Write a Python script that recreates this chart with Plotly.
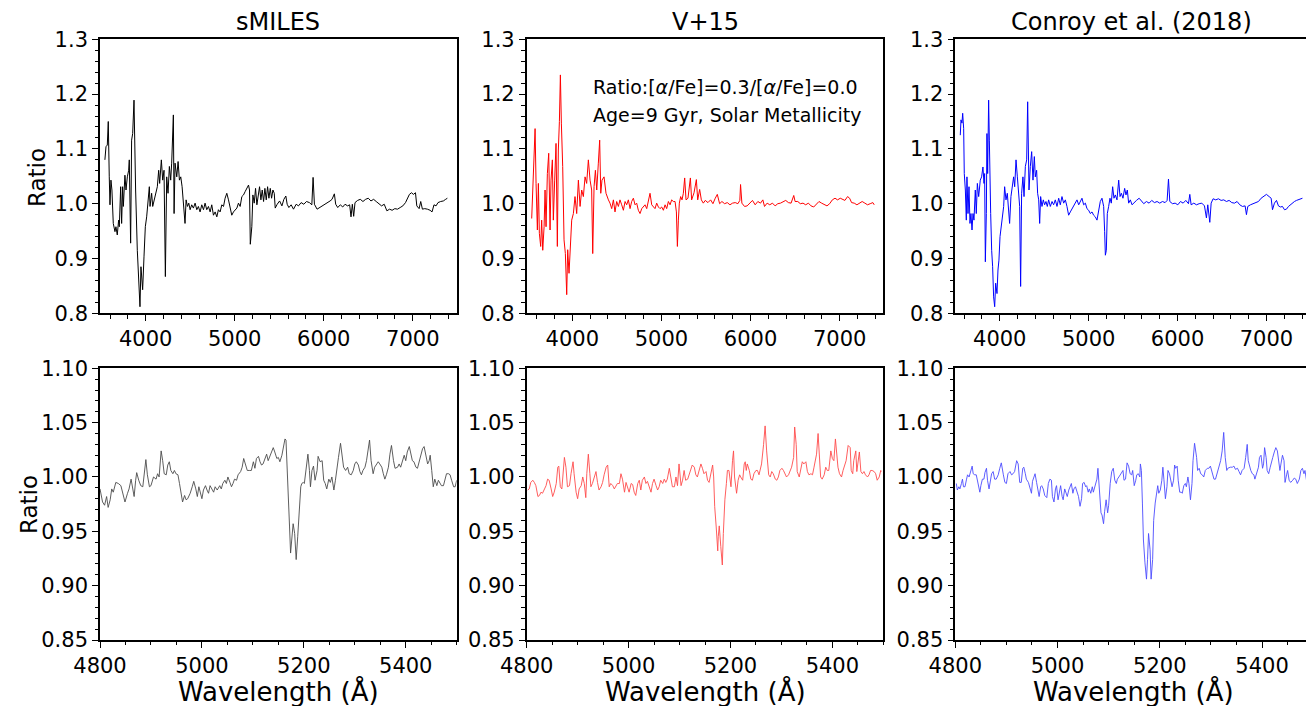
import plotly.graph_objects as go

# ---------------- full-range ratio spectra (top row) ----------------
smiles_wl = [3542, 3554, 3569, 3580, 3591, 3599, 3610, 3621, 3636, 3655, 3666, 3681, 3696, 3704,
             3719, 3730, 3741, 3749, 3767, 3779, 3794, 3809, 3816, 3831, 3842, 3854, 3869, 3876,
             3887, 3906, 3917, 3936, 3947, 3966, 3981, 3996, 4011, 4022, 4041, 4049, 4067, 4079,
             4094, 4116, 4131, 4146, 4157, 4176, 4191, 4206, 4221, 4236, 4251, 4266, 4281, 4292,
             4311, 4319, 4330, 4349, 4364, 4379, 4394, 4409, 4424, 4442, 4454, 4469, 4484, 4499,
             4517, 4536, 4555, 4574, 4592, 4611, 4630, 4649, 4667, 4686, 4705, 4724, 4742, 4761,
             4780, 4799, 4817, 4836, 4855, 4874, 4892, 4911, 4930, 4949, 4967, 4986, 5005, 5024,
             5042, 5061, 5080, 5099, 5117, 5136, 5155, 5166, 5175, 5192, 5204, 5219, 5234, 5249,
             5264, 5279, 5294, 5309, 5324, 5339, 5354, 5369, 5384, 5399, 5414, 5429, 5444, 5455,
             5477, 5504, 5530, 5552, 5574, 5589, 5608, 5634, 5660, 5690, 5716, 5746, 5776, 5806,
             5839, 5866, 5880, 5895, 5925, 5955, 5989, 6015, 6045, 6071, 6093, 6119, 6134, 6157,
             6186, 6213, 6239, 6268, 6291, 6306, 6321, 6336, 6351, 6380, 6410, 6440, 6470, 6500,
             6530, 6560, 6589, 6619, 6649, 6679, 6709, 6739, 6768, 6798, 6828, 6858, 6888, 6918,
             6940, 6962, 6985, 7007, 7030, 7045, 7071, 7089, 7108, 7134, 7164, 7194, 7216, 7238,
             7261, 7283, 7313, 7343, 7369, 7388]
smiles_ratio = [1.080, 1.104, 1.107, 1.150, 1.049, 0.998, 1.043, 1.025, 0.964, 0.949, 0.958, 0.943, 0.970, 0.958,
                1.031, 0.964, 1.031, 0.995, 1.052, 1.025, 1.049, 1.061, 1.080, 0.928, 1.116, 1.128, 1.189, 1.104,
                1.025, 0.915, 0.867, 0.812, 0.885, 0.843, 0.903, 0.958, 0.976, 0.995, 1.031, 0.995, 1.019, 0.995,
                1.007, 1.025, 1.031, 1.061, 1.037, 1.080, 1.043, 1.061, 0.867, 1.049, 1.019, 1.068, 1.043, 1.074,
                1.162, 0.982, 1.074, 1.049, 1.077, 1.043, 1.049, 1.031, 0.995, 0.964, 1.007, 0.995, 1.001, 0.989,
                0.998, 0.992, 1.001, 0.989, 0.995, 0.985, 0.998, 0.989, 1.001, 0.989, 0.995, 0.985, 0.998, 0.979,
                0.985, 0.976, 0.989, 0.985, 0.998, 0.995, 1.010, 1.019, 1.007, 0.989, 0.979, 0.985, 0.989, 0.992,
                1.001, 0.995, 1.013, 1.016, 1.022, 1.028, 1.034, 1.025, 0.926, 0.958, 1.016, 1.001, 1.028, 0.998,
                1.016, 1.031, 1.007, 1.025, 1.004, 1.028, 1.007, 1.031, 1.010, 1.028, 1.010, 1.025, 1.019, 0.992,
                0.999, 1.005, 0.996, 1.008, 1.014, 0.999, 0.993, 0.998, 0.990, 0.999, 0.996, 1.002, 0.999, 1.004,
                1.002, 0.998, 1.048, 0.999, 0.990, 0.993, 0.996, 1.000, 1.002, 1.005, 1.008, 1.018, 0.999, 0.993,
                0.998, 0.994, 0.999, 0.996, 0.998, 0.976, 0.999, 0.977, 1.002, 1.006, 1.008, 1.004, 1.008, 1.010,
                1.005, 1.008, 1.004, 1.000, 0.996, 0.999, 0.987, 0.990, 0.988, 0.991, 0.990, 0.993, 0.996, 1.002,
                1.011, 1.017, 1.020, 1.017, 1.020, 0.996, 0.991, 1.004, 0.990, 0.991, 0.990, 0.988, 0.985, 0.998,
                0.996, 1.002, 1.004, 1.005, 1.008, 1.010]

v15_wl = [3544, 3563, 3582, 3593, 3608, 3619, 3630, 3645, 3656, 3668, 3683, 3694, 3705, 3720,
          3735, 3750, 3761, 3776, 3787, 3802, 3817, 3832, 3843, 3855, 3866, 3877, 3892, 3907,
          3922, 3937, 3948, 3963, 3978, 3993, 4012, 4030, 4049, 4068, 4087, 4105, 4124, 4143,
          4161, 4180, 4199, 4217, 4229, 4244, 4259, 4274, 4292, 4307, 4319, 4333, 4356, 4378,
          4405, 4423, 4442, 4461, 4479, 4498, 4517, 4535, 4554, 4573, 4592, 4610, 4629, 4648,
          4666, 4685, 4704, 4722, 4741, 4760, 4779, 4797, 4816, 4835, 4853, 4872, 4891, 4910,
          4928, 4947, 4966, 4984, 5003, 5022, 5041, 5059, 5078, 5097, 5115, 5134, 5153, 5168,
          5179, 5190, 5201, 5216, 5231, 5246, 5261, 5276, 5298, 5325, 5339, 5366, 5392, 5407,
          5429, 5448, 5470, 5492, 5522, 5552, 5578, 5604, 5627, 5653, 5679, 5709, 5739, 5769,
          5798, 5828, 5858, 5880, 5888, 5903, 5933, 5962, 5992, 6022, 6052, 6082, 6112, 6138,
          6157, 6186, 6216, 6246, 6276, 6306, 6336, 6365, 6395, 6425, 6455, 6485, 6500, 6530,
          6559, 6589, 6619, 6649, 6679, 6709, 6739, 6768, 6798, 6828, 6858, 6888, 6918, 6948,
          6977, 7007, 7037, 7059, 7089, 7112, 7134, 7164, 7194, 7224, 7253, 7283, 7313, 7343,
          7373, 7388]
v15_ratio = [0.973, 1.043, 1.137, 1.037, 0.952, 1.037, 0.946, 0.922, 0.970, 0.915, 0.958, 1.025, 0.958, 1.055,
             1.092, 0.952, 1.043, 1.080, 0.970, 1.043, 1.110, 0.922, 1.098, 1.150, 1.235, 1.147, 1.068, 0.934,
             0.909, 0.834, 0.916, 0.873, 0.934, 0.970, 0.982, 1.013, 0.982, 1.043, 0.995, 1.025, 1.013, 1.049,
             1.037, 1.080, 1.043, 1.025, 0.909, 1.031, 1.061, 1.025, 1.074, 1.116, 1.019, 1.043, 1.049, 1.019,
             1.007, 1.001, 0.991, 1.007, 0.985, 1.004, 0.995, 1.007, 0.998, 0.988, 1.004, 0.998, 1.007, 0.991,
             1.004, 1.010, 0.998, 1.001, 0.988, 0.982, 0.991, 0.994, 0.998, 0.991, 1.007, 1.019, 0.998, 0.994,
             0.991, 1.001, 0.994, 0.991, 0.994, 0.988, 0.998, 0.991, 1.004, 0.998, 1.007, 1.004, 1.004, 0.985,
             0.922, 0.970, 1.001, 1.013, 1.007, 1.019, 1.047, 1.007, 1.010, 1.047, 1.007, 1.020, 1.044, 1.007,
             1.026, 1.007, 1.001, 1.006, 1.002, 1.007, 1.000, 1.010, 1.017, 1.000, 1.004, 1.000, 1.002, 0.998,
             1.001, 1.002, 1.000, 1.006, 1.035, 1.001, 0.995, 0.996, 1.001, 1.006, 0.998, 1.004, 1.001, 1.007,
             0.995, 1.001, 0.998, 1.001, 0.996, 1.000, 1.001, 1.004, 1.006, 1.002, 1.001, 1.015, 1.004, 1.004,
             1.000, 1.001, 0.998, 1.001, 0.996, 0.994, 1.000, 1.004, 1.001, 0.998, 0.996, 1.000, 1.007, 1.010,
             1.007, 1.010, 1.007, 1.006, 1.013, 1.010, 1.002, 1.001, 0.998, 1.001, 1.004, 1.001, 0.998, 1.000,
             1.002, 0.998]

conroy_wl = [3556, 3564, 3575, 3583, 3594, 3601, 3613, 3624, 3631, 3643, 3654, 3665, 3676, 3688,
             3699, 3710, 3725, 3736, 3748, 3763, 3781, 3796, 3811, 3823, 3830, 3838, 3849, 3856,
             3864, 3875, 3883, 3890, 3898, 3909, 3920, 3931, 3943, 3954, 3969, 3980, 3991, 4003,
             4014, 4025, 4044, 4055, 4070, 4085, 4100, 4111, 4126, 4138, 4156, 4168, 4183, 4198,
             4213, 4224, 4235, 4246, 4261, 4273, 4288, 4303, 4314, 4321, 4329, 4344, 4359, 4374,
             4389, 4400, 4415, 4426, 4438, 4449, 4460, 4475, 4490, 4505, 4520, 4535, 4550, 4569,
             4588, 4606, 4625, 4644, 4663, 4681, 4700, 4719, 4738, 4756, 4775, 4794, 4813, 4831,
             4850, 4869, 4888, 4906, 4925, 4944, 4963, 4981, 5000, 5019, 5038, 5056, 5075, 5094,
             5113, 5131, 5150, 5169, 5180, 5188, 5199, 5210, 5225, 5240, 5255, 5270, 5285, 5300,
             5319, 5338, 5353, 5368, 5386, 5405, 5420, 5435, 5450, 5469, 5488, 5518, 5538, 5568,
             5594, 5620, 5650, 5680, 5710, 5740, 5770, 5800, 5830, 5860, 5883, 5898, 5913, 5943,
             5973, 6003, 6033, 6063, 6093, 6123, 6138, 6153, 6183, 6213, 6243, 6273, 6303, 6325,
             6340, 6363, 6378, 6400, 6430, 6460, 6490, 6520, 6550, 6580, 6610, 6640, 6670, 6700,
             6730, 6760, 6775, 6790, 6820, 6850, 6880, 6910, 6940, 6970, 7000, 7030, 7053, 7068,
             7090, 7113, 7135, 7158, 7180, 7203, 7225, 7248, 7270, 7293, 7315, 7338, 7360, 7383,
             7405]
conroy_ratio = [1.125, 1.153, 1.147, 1.165, 1.137, 1.055, 1.025, 0.970, 1.049, 0.982, 1.031, 0.964, 0.982, 0.952,
                0.982, 0.970, 1.025, 0.982, 1.037, 1.013, 1.043, 1.049, 1.067, 1.037, 1.055, 0.894, 0.982, 1.128,
                1.055, 1.189, 1.116, 1.031, 0.982, 0.915, 0.885, 0.830, 0.812, 0.855, 0.836, 0.879, 0.897, 0.940,
                0.958, 0.964, 0.995, 1.031, 1.007, 1.019, 0.982, 0.964, 1.013, 1.031, 1.049, 1.031, 1.080, 1.049,
                1.025, 0.995, 0.849, 1.019, 1.049, 1.013, 1.068, 1.080, 1.186, 1.104, 1.025, 1.068, 1.095, 1.043,
                1.086, 1.049, 1.061, 1.019, 1.007, 0.964, 1.013, 0.995, 1.007, 0.998, 1.004, 0.995, 1.007, 0.995,
                1.004, 0.998, 1.007, 0.995, 1.010, 0.998, 1.013, 1.001, 1.007, 0.995, 0.979, 0.985, 0.991, 0.998,
                1.001, 1.007, 0.998, 1.004, 1.010, 0.998, 1.001, 0.991, 0.988, 0.982, 0.985, 0.979, 0.976, 0.970,
                0.991, 1.004, 1.010, 0.995, 0.949, 0.906, 0.915, 0.982, 0.995, 1.010, 1.001, 1.031, 1.010, 1.016,
                1.007, 1.043, 1.013, 1.019, 1.010, 1.028, 1.016, 1.025, 1.001, 1.007, 0.998, 1.004, 1.006, 1.010,
                1.004, 1.000, 1.004, 1.001, 1.006, 1.002, 1.004, 1.001, 1.004, 1.002, 1.006, 1.045, 1.004, 1.000,
                1.001, 0.998, 1.004, 1.001, 1.006, 1.000, 1.017, 0.998, 1.001, 0.998, 1.000, 1.001, 0.996, 0.974,
                0.998, 0.966, 1.001, 1.009, 1.007, 1.009, 1.006, 1.007, 1.004, 1.006, 1.002, 1.001, 1.004, 0.998,
                0.995, 0.996, 0.980, 0.995, 0.998, 1.000, 1.001, 1.004, 1.010, 1.013, 1.017, 1.013, 1.010, 0.989,
                1.001, 1.006, 0.996, 0.994, 0.995, 0.989, 0.990, 0.995, 0.998, 1.002, 1.004, 1.006, 1.007, 1.009,
                1.010]

# ---------------- zoom on 4800-5500 A (bottom row) ----------------
smiles_zoom_wl = [4800, 4805, 4809, 4813, 4816, 4820, 4823, 4826, 4831, 4836, 4841, 4845, 4849, 4854,
                  4857, 4861, 4864, 4867, 4870, 4872, 4876, 4880, 4884, 4887, 4890, 4893, 4897, 4900,
                  4905, 4910, 4913, 4916, 4920, 4923, 4926, 4930, 4933, 4936, 4939, 4943, 4946, 4949,
                  4953, 4956, 4959, 4962, 4966, 4969, 4972, 4977, 4981, 4984, 4988, 4991, 4994, 4997,
                  5000, 5003, 5007, 5010, 5013, 5016, 5020, 5023, 5026, 5030, 5035, 5038, 5041, 5045,
                  5048, 5051, 5055, 5058, 5061, 5064, 5068, 5071, 5076, 5079, 5082, 5086, 5089, 5094,
                  5097, 5101, 5104, 5107, 5111, 5114, 5117, 5120, 5124, 5127, 5130, 5136, 5140, 5143,
                  5147, 5150, 5153, 5157, 5160, 5163, 5165, 5167, 5170, 5172, 5174, 5177, 5179, 5182,
                  5185, 5188, 5191, 5194, 5196, 5199, 5201, 5205, 5208, 5211, 5213, 5216, 5219, 5222,
                  5226, 5228, 5232, 5236, 5239, 5242, 5245, 5249, 5252, 5255, 5259, 5262, 5265, 5268,
                  5272, 5275, 5278, 5282, 5286, 5289, 5293, 5297, 5300, 5303, 5307, 5310, 5313, 5316,
                  5320, 5323, 5326, 5329, 5332, 5336, 5339, 5343, 5346, 5349, 5353, 5356, 5359, 5362,
                  5366, 5369, 5372, 5376, 5379, 5384, 5387, 5390, 5393, 5397, 5400, 5403, 5407, 5410,
                  5413, 5416, 5420, 5423, 5426, 5430, 5433, 5436, 5439, 5443, 5446, 5448, 5451, 5454,
                  5457, 5461, 5464, 5467, 5470, 5474, 5477, 5480, 5484, 5487, 5490, 5494, 5497, 5500]
smiles_zoom_ratio = [0.989, 0.977, 0.974, 0.982, 0.972, 0.979, 0.989, 0.986, 0.995, 0.994, 0.992, 0.985, 0.977, 0.985,
                     0.989, 0.998, 0.988, 0.982, 0.997, 1.004, 0.997, 0.992, 0.991, 1.003, 1.016, 1.002, 0.991, 0.992,
                     1.000, 0.998, 1.003, 1.000, 1.024, 1.015, 1.003, 1.002, 1.011, 1.014, 1.006, 1.003, 1.006, 1.003,
                     1.002, 0.994, 0.985, 0.977, 0.983, 0.979, 0.980, 0.985, 0.991, 0.996, 0.989, 0.982, 0.991, 0.986,
                     0.980, 0.988, 0.992, 0.988, 0.985, 0.992, 0.989, 0.986, 0.991, 0.988, 0.992, 0.989, 0.994, 0.997,
                     0.994, 1.000, 0.995, 0.991, 0.994, 0.998, 0.997, 1.002, 1.005, 1.009, 1.017, 1.009, 1.006, 1.006,
                     1.006, 1.014, 1.008, 1.017, 1.019, 1.014, 1.011, 1.012, 1.017, 1.021, 1.015, 1.022, 1.027, 1.023,
                     1.017, 1.018, 1.014, 1.020, 1.027, 1.035, 1.034, 1.015, 0.985, 0.954, 0.930, 0.951, 0.957, 0.948,
                     0.924, 0.945, 0.972, 0.991, 0.994, 0.995, 0.994, 1.009, 1.021, 1.006, 0.991, 1.006, 1.010, 0.997,
                     1.006, 1.019, 1.014, 1.015, 0.997, 0.994, 0.989, 0.998, 0.995, 1.000, 0.988, 0.997, 1.009, 1.018,
                     1.031, 1.021, 1.009, 1.006, 1.009, 1.003, 1.002, 1.006, 1.012, 1.014, 1.011, 1.005, 1.002, 1.006,
                     1.009, 1.015, 1.023, 1.034, 1.015, 1.003, 1.009, 1.012, 1.014, 1.012, 1.009, 1.003, 0.998, 1.002,
                     1.009, 1.021, 1.029, 1.015, 1.008, 1.009, 1.012, 1.009, 1.015, 1.020, 1.015, 1.023, 1.028, 1.021,
                     1.015, 1.014, 1.009, 1.008, 1.014, 1.021, 1.026, 1.028, 1.021, 1.012, 1.015, 1.020, 1.006, 0.991,
                     0.998, 0.992, 0.997, 0.994, 0.992, 0.992, 0.998, 1.003, 1.003, 1.002, 0.997, 0.991, 0.991, 0.997]

v15_zoom_wl = [4802, 4805, 4808, 4812, 4815, 4818, 4822, 4825, 4828, 4831, 4835, 4838, 4841, 4844,
               4848, 4851, 4854, 4858, 4861, 4863, 4866, 4869, 4874, 4877, 4880, 4884, 4887, 4891,
               4893, 4897, 4900, 4903, 4907, 4910, 4913, 4916, 4918, 4921, 4924, 4926, 4929, 4933,
               4936, 4939, 4942, 4946, 4949, 4952, 4956, 4959, 4962, 4965, 4969, 4972, 4975, 4978,
               4982, 4985, 4988, 4992, 4995, 4998, 5001, 5005, 5008, 5011, 5014, 5018, 5021, 5024,
               5027, 5031, 5034, 5037, 5041, 5044, 5047, 5050, 5054, 5057, 5060, 5063, 5067, 5070,
               5073, 5076, 5080, 5083, 5086, 5090, 5093, 5096, 5099, 5103, 5106, 5109, 5112, 5116,
               5119, 5122, 5125, 5129, 5132, 5135, 5139, 5142, 5145, 5148, 5152, 5155, 5158, 5161,
               5165, 5167, 5169, 5172, 5175, 5176, 5178, 5181, 5184, 5186, 5189, 5192, 5194, 5197,
               5201, 5204, 5206, 5208, 5212, 5215, 5218, 5220, 5224, 5227, 5229, 5231, 5233, 5237,
               5240, 5243, 5246, 5250, 5253, 5256, 5258, 5261, 5265, 5268, 5271, 5275, 5278, 5281,
               5284, 5288, 5291, 5294, 5297, 5301, 5304, 5307, 5310, 5314, 5317, 5320, 5324, 5326,
               5329, 5331, 5335, 5338, 5341, 5344, 5348, 5351, 5354, 5358, 5361, 5364, 5367, 5369,
               5372, 5375, 5377, 5380, 5384, 5387, 5390, 5393, 5397, 5400, 5403, 5406, 5408, 5411,
               5414, 5418, 5421, 5424, 5427, 5431, 5435, 5437, 5440, 5442, 5446, 5448, 5450, 5453,
               5456, 5459, 5462, 5465, 5469, 5472, 5475, 5478, 5482, 5485, 5488, 5492, 5495, 5496]
v15_zoom_ratio = [0.988, 0.989, 0.995, 0.997, 0.995, 0.992, 0.982, 0.983, 0.986, 0.985, 0.989, 0.992, 0.998, 0.997,
                  0.989, 0.982, 0.986, 0.994, 1.009, 1.010, 0.991, 0.989, 1.018, 1.009, 0.991, 0.992, 1.003, 1.014,
                  1.003, 0.986, 0.980, 0.989, 0.992, 1.000, 0.994, 0.981, 1.003, 1.021, 1.003, 0.991, 0.994, 1.002,
                  1.005, 0.995, 0.988, 0.991, 0.995, 1.002, 1.009, 1.011, 0.991, 0.994, 0.992, 0.989, 0.991, 0.994,
                  0.994, 1.003, 0.998, 0.986, 0.995, 0.991, 0.986, 0.994, 0.993, 0.986, 0.983, 0.994, 0.997, 0.988,
                  0.997, 1.000, 0.994, 0.996, 0.991, 0.986, 0.994, 0.998, 0.992, 0.988, 0.991, 0.997, 0.994, 0.998,
                  0.995, 0.998, 1.008, 0.998, 0.991, 0.991, 1.000, 0.992, 1.012, 0.992, 0.997, 1.006, 0.997, 0.998,
                  1.002, 1.008, 1.011, 1.009, 1.002, 1.000, 1.008, 1.012, 1.008, 1.003, 1.005, 0.997, 0.995, 1.003,
                  1.011, 1.000, 0.973, 0.954, 0.932, 0.945, 0.955, 0.936, 0.919, 0.948, 0.979, 0.994, 1.006, 1.006,
                  0.991, 1.015, 1.024, 1.000, 0.985, 0.997, 1.002, 1.000, 0.997, 1.012, 1.014, 1.006, 1.012, 1.006,
                  0.998, 0.997, 1.003, 1.006, 1.006, 1.002, 1.006, 1.012, 1.030, 1.047, 1.024, 1.002, 1.000, 1.005,
                  1.003, 0.998, 0.997, 1.000, 1.006, 1.008, 1.006, 1.002, 1.000, 1.002, 1.005, 1.009, 1.018, 1.046,
                  1.030, 1.005, 1.000, 1.009, 1.014, 1.012, 1.014, 1.005, 1.002, 1.003, 1.002, 1.009, 1.015, 1.021,
                  1.040, 1.021, 1.000, 0.998, 1.002, 1.009, 1.006, 1.006, 1.024, 1.017, 1.015, 1.035, 1.024, 1.009,
                  1.003, 1.000, 1.006, 1.012, 1.015, 1.029, 1.027, 1.006, 1.003, 1.015, 1.024, 1.005, 1.012, 1.023,
                  1.005, 1.003, 1.005, 1.002, 1.000, 1.002, 1.006, 1.006, 1.005, 1.003, 0.997, 1.000, 1.006, 1.005]

conroy_zoom_wl = [4802, 4804, 4807, 4809, 4812, 4814, 4816, 4819, 4822, 4824, 4827, 4830, 4833, 4835,
                  4838, 4841, 4844, 4848, 4850, 4853, 4856, 4858, 4861, 4863, 4866, 4869, 4871, 4874,
                  4877, 4880, 4884, 4887, 4890, 4894, 4897, 4900, 4903, 4907, 4910, 4913, 4916, 4920,
                  4923, 4926, 4929, 4932, 4934, 4937, 4939, 4943, 4946, 4949, 4951, 4954, 4956, 4959,
                  4962, 4964, 4967, 4969, 4972, 4975, 4979, 4982, 4985, 4988, 4990, 4993, 4996, 4998,
                  5001, 5003, 5006, 5009, 5011, 5014, 5017, 5019, 5022, 5024, 5027, 5030, 5032, 5035,
                  5038, 5041, 5044, 5047, 5049, 5052, 5055, 5057, 5060, 5062, 5065, 5068, 5070, 5073,
                  5077, 5079, 5082, 5085, 5087, 5090, 5092, 5095, 5098, 5100, 5103, 5106, 5109, 5112,
                  5115, 5117, 5120, 5123, 5125, 5128, 5130, 5133, 5136, 5139, 5142, 5145, 5147, 5150,
                  5153, 5155, 5158, 5161, 5162, 5164, 5166, 5168, 5171, 5174, 5176, 5178, 5181, 5183,
                  5186, 5188, 5191, 5193, 5196, 5198, 5201, 5204, 5206, 5208, 5211, 5214, 5216, 5219,
                  5222, 5224, 5227, 5229, 5231, 5234, 5236, 5239, 5242, 5244, 5247, 5250, 5252, 5255,
                  5257, 5260, 5263, 5265, 5268, 5272, 5274, 5277, 5280, 5283, 5286, 5289, 5293, 5296,
                  5299, 5303, 5306, 5309, 5312, 5316, 5319, 5322, 5325, 5328, 5331, 5333, 5336, 5338,
                  5342, 5345, 5348, 5352, 5355, 5358, 5361, 5365, 5368, 5371, 5373, 5376, 5378, 5381,
                  5384, 5386, 5390, 5393, 5395, 5398, 5401, 5403, 5405, 5408, 5410, 5413, 5416, 5418,
                  5421, 5424, 5427, 5430, 5432, 5435, 5437, 5440, 5443, 5445, 5448, 5450, 5453, 5456,
                  5460, 5463, 5466, 5469, 5473, 5476, 5479, 5482, 5484, 5487, 5488]
conroy_zoom_ratio = [0.994, 0.988, 0.991, 0.989, 0.994, 0.998, 0.991, 0.991, 0.998, 1.002, 1.000, 1.006, 1.010, 1.003,
                     1.002, 1.002, 0.995, 0.986, 0.992, 0.998, 0.998, 1.004, 1.008, 0.997, 0.989, 0.997, 1.003, 1.005,
                     0.998, 0.998, 1.002, 1.008, 1.013, 1.002, 0.995, 0.994, 1.003, 1.005, 1.002, 1.003, 1.005, 1.015,
                     1.012, 0.995, 0.995, 1.008, 1.009, 1.003, 0.998, 0.995, 0.989, 0.985, 0.996, 1.002, 1.003, 0.995,
                     0.986, 0.982, 0.991, 0.992, 0.989, 0.983, 0.981, 0.994, 0.998, 0.997, 0.982, 0.977, 0.989, 0.992,
                     0.979, 0.986, 0.992, 0.982, 0.979, 0.989, 0.985, 0.982, 0.988, 0.991, 0.994, 0.985, 0.989, 0.991,
                     0.986, 0.982, 0.973, 0.980, 0.994, 0.995, 0.991, 0.992, 0.986, 0.989, 0.985, 0.991, 0.986, 0.992,
                     0.998, 1.008, 0.991, 0.967, 0.965, 0.957, 0.968, 0.979, 0.967, 0.974, 0.994, 1.005, 1.008, 0.997,
                     0.994, 0.998, 1.000, 1.002, 1.003, 1.006, 0.997, 0.998, 1.013, 1.010, 1.003, 1.002, 1.006, 0.992,
                     0.997, 1.002, 1.003, 1.000, 1.012, 1.006, 0.976, 0.942, 0.921, 0.906, 0.924, 0.948, 0.933, 0.906,
                     0.924, 0.960, 0.976, 0.985, 0.992, 0.985, 0.988, 0.997, 1.009, 0.998, 0.980, 0.991, 1.006, 1.003,
                     0.995, 0.991, 0.997, 1.011, 1.008, 1.010, 0.997, 0.986, 0.986, 0.985, 0.992, 0.994, 0.991, 1.000,
                     0.994, 0.979, 0.994, 1.015, 1.031, 1.018, 1.006, 1.008, 1.003, 1.002, 1.000, 1.006, 1.008, 1.008,
                     1.010, 1.002, 0.998, 0.998, 1.003, 1.009, 1.015, 1.024, 1.041, 1.018, 1.006, 1.008, 1.009, 1.009,
                     1.009, 1.010, 1.007, 1.008, 1.005, 1.002, 1.006, 1.008, 1.018, 1.030, 1.015, 1.008, 1.006, 1.003,
                     1.002, 0.998, 1.005, 1.009, 1.018, 1.020, 1.008, 1.012, 1.027, 1.018, 1.006, 1.003, 1.009, 1.014,
                     1.018, 1.023, 1.027, 1.024, 1.015, 1.006, 1.012, 1.020, 1.015, 0.995, 1.002, 1.006, 0.997, 0.995,
                     0.997, 0.999, 0.998, 0.994, 0.998, 1.006, 1.008, 1.003, 1.006, 0.997, 0.994]

panel_titles = ["sMILES", "V+15", "Conroy et al. (2018)"]
top_yticks = [0.8, 0.9, 1.0, 1.1, 1.2, 1.3]
bottom_yticks = [0.85, 0.90, 0.95, 1.00, 1.05, 1.10]
top_xticks = [4000, 5000, 6000, 7000]
bottom_xticks = [4800, 5000, 5200, 5400]

FONT = "DejaVu Sans"
W, H = 1306, 706

# panel frames in pixels: (left, right) columns and (top, bottom) rows
cols = [(100, 456.7), (526.7, 883.3), (955.3, 1306)]
rows = [(39.3, 313.3), (368.3, 640)]


def xdom(c):
    return [cols[c][0] / W, cols[c][1] / W]


def ydom(r):
    return [1 - rows[r][1] / H, 1 - rows[r][0] / H]


fig = go.Figure()

top_series = [(smiles_wl, smiles_ratio, "#000000"),
              (v15_wl, v15_ratio, "#ff0000"),
              (conroy_wl, conroy_ratio, "#0000ff")]
bottom_series = [(smiles_zoom_wl, smiles_zoom_ratio, "#000000"),
                 (v15_zoom_wl, v15_zoom_ratio, "#ff0000"),
                 (conroy_zoom_wl, conroy_zoom_ratio, "#0000ff")]

for i, (wl, ratio, color) in enumerate(top_series):
    n = i + 1
    fig.add_trace(go.Scatter(x=wl, y=ratio, mode="lines",
                             line=dict(color=color, width=1.0),
                             xaxis=f"x{n}", yaxis=f"y{n}", showlegend=False))
for i, (wl, ratio, color) in enumerate(bottom_series):
    n = i + 4
    fig.add_trace(go.Scatter(x=wl, y=ratio, mode="lines",
                             line=dict(color=color, width=0.9), opacity=0.7,
                             xaxis=f"x{n}", yaxis=f"y{n}", showlegend=False))

tickfont = dict(family=FONT, size=21, color="black")


def axis_common():
    return dict(showline=True, linecolor="black", linewidth=1.6, mirror=True,
                ticks="outside", ticklen=6, tickwidth=1.3, tickcolor="black",
                showgrid=False, zeroline=False, tickfont=tickfont, automargin=False)


top_x_ranges = [[3487, 7493], [3488, 7490], [3500, 7445]]
layout = {}
for c in range(3):
    # top row
    n = c + 1
    xa = axis_common()
    xa.update(domain=xdom(c), range=top_x_ranges[c], tickvals=top_xticks,
              anchor=f"y{n}",
              minor=dict(dtick=200, ticks="outside", ticklen=3.5, tickwidth=1, tickcolor="black"))
    ya = axis_common()
    ya.update(domain=ydom(0), range=[0.8, 1.3], tickvals=top_yticks, tickformat=".1f",
              anchor=f"x{n}",
              minor=dict(dtick=0.02, ticks="outside", ticklen=3.5, tickwidth=1, tickcolor="black"))
    layout[f"xaxis{n}"] = xa
    layout[f"yaxis{n}"] = ya

    # bottom row
    n = c + 4
    xa = axis_common()
    rng = [4800, 5500] if c < 2 else [4800, 5486]
    xa.update(domain=xdom(c), range=rng, tickvals=bottom_xticks,
              anchor=f"y{n}",
              minor=dict(dtick=50, ticks="outside", ticklen=3.5, tickwidth=1, tickcolor="black"))
    ya = axis_common()
    ya.update(domain=ydom(1), range=[0.85, 1.10], tickvals=bottom_yticks, tickformat=".2f",
              anchor=f"x{n}",
              minor=dict(dtick=0.01, ticks="outside", ticklen=3.5, tickwidth=1, tickcolor="black"))
    if c == 2:
        # frame runs off the right edge of the figure here
        ya["mirror"] = False
    layout[f"xaxis{n}"] = xa
    layout[f"yaxis{n}"] = ya

annotations = []
title_x = [278, 705, 1131]
for c in range(3):
    annotations.append(dict(text=panel_titles[c], x=title_x[c] / W, y=1 - 22 / H,
                            xref="paper", yref="paper", xanchor="center", yanchor="middle",
                            showarrow=False, font=dict(family=FONT, size=24, color="black")))
    annotations.append(dict(text="Wavelength (Å)", x=(cols[c][0] + 356.7 / 2) / W, y=1 - 691 / H,
                            xref="paper", yref="paper", xanchor="center", yanchor="middle",
                            showarrow=False, font=dict(family=FONT, size=26, color="black")))

annotations.append(dict(text="Ratio", x=37 / W, y=1 - 178 / H, textangle=-90,
                        xref="paper", yref="paper", xanchor="center", yanchor="middle",
                        showarrow=False, font=dict(family=FONT, size=23, color="black")))
annotations.append(dict(text="Ratio", x=29 / W, y=1 - 505 / H, textangle=-90,
                        xref="paper", yref="paper", xanchor="center", yanchor="middle",
                        showarrow=False, font=dict(family=FONT, size=23, color="black")))

annotations.append(dict(text="Ratio:[<i>α</i>/Fe]=0.3/[<i>α</i>/Fe]=0.0", x=591 / W, y=1 - 87 / H,
                        xref="paper", yref="paper", xanchor="left", yanchor="middle",
                        showarrow=False, font=dict(family=FONT, size=19, color="black")))
annotations.append(dict(text="Age=9 Gyr, Solar Metallicity", x=591 / W, y=1 - 115 / H,
                        xref="paper", yref="paper", xanchor="left", yanchor="middle",
                        showarrow=False, font=dict(family=FONT, size=19, color="black")))

fig.update_layout(width=W, height=H, margin=dict(l=0, r=0, t=0, b=0, autoexpand=False),
                  paper_bgcolor="white", plot_bgcolor="white",
                  annotations=annotations, **layout)

fig.write_html("out.html")
